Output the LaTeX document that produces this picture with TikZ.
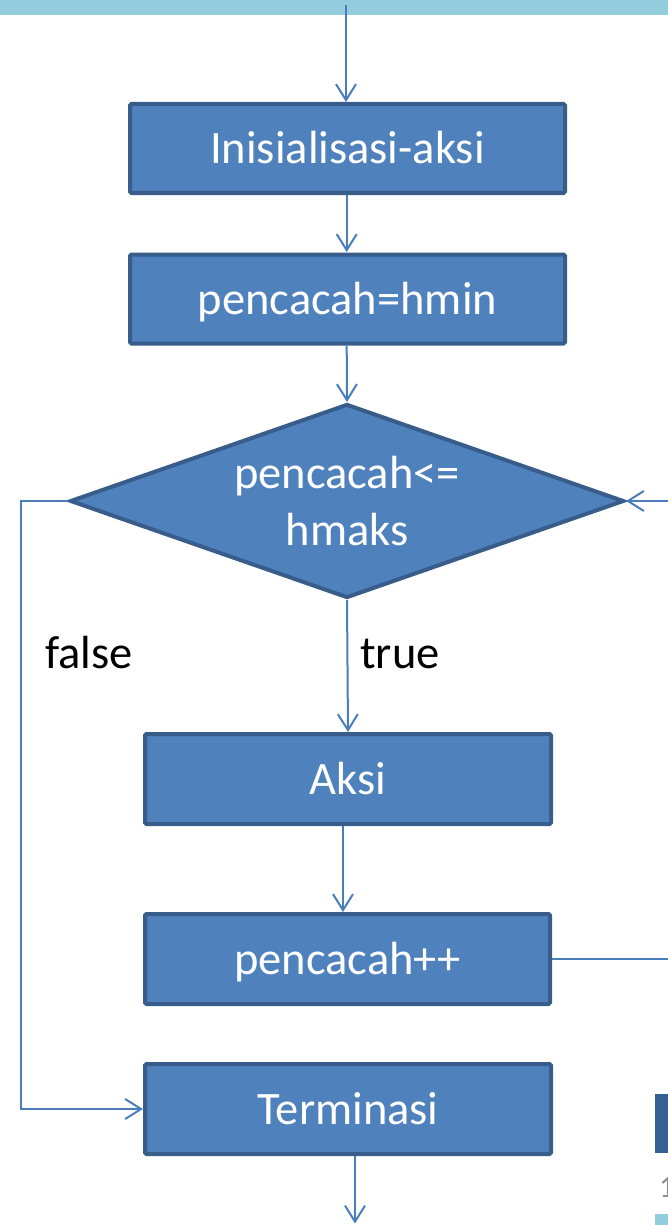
\documentclass[tikz,border=0pt]{standalone}
\usepackage{fontspec}
\setmainfont{Carlito}
\usetikzlibrary{shapes.geometric,arrows.meta}
\definecolor{boxfill}{HTML}{4F81BD}
\definecolor{boxline}{HTML}{385D8A}
\definecolor{conn}{HTML}{4A7EBB}
\definecolor{band}{HTML}{93CDDD}
\definecolor{darkrect}{HTML}{376092}
\definecolor{numgray}{HTML}{8C8C8C}
\tikzset{
  stepbox/.style={rectangle, draw=boxline, fill=boxfill, line width=4pt,
    rounded corners=1.5pt, text=white, inner sep=0pt,
    font=\fontsize{46.5}{57}\selectfont, text height=30pt, text depth=0pt},
  decision/.style={diamond, draw=boxline, fill=boxfill, line width=4pt,
    text=white, inner sep=0pt, align=center, aspect=2.85,
    font=\fontsize{46.5}{57}\selectfont,
    minimum width=554pt, minimum height=194pt},
  conn/.style={draw=conn, line width=2pt,
    -{Straight Barb[length=16pt,width=20pt,line width=2pt]}},
  lbl/.style={font=\fontsize{46.5}{57}\selectfont, text=black, inner sep=0pt, anchor=base west}
}
\begin{document}
\begin{tikzpicture}[x=1pt,y=-1pt]
\useasboundingbox (0,0) rectangle (668,1225);
\clip (0,0) rectangle (668,1225);
% top band
\fill[band] (0,0) rectangle (668,15);
% decorations bottom right
\fill[darkrect] (655,1094) rectangle (670,1153);
\fill[band] (655,1214) rectangle (670,1226);
\node[font=\fontsize{31}{36}\selectfont, text=numgray, inner sep=0pt, anchor=base west] (pnum) at (659,1197) {1};
% nodes
\node[stepbox, minimum width=435pt, minimum height=89pt] (b1) at (347.5,148.5) {Inisialisasi-aksi};
\node[stepbox, minimum width=435pt, minimum height=89pt] (b2) at (347.5,299) {pencacah=hmin};
\node[decision] (d) at (347,501) {pencacah<=\\hmaks};
\node[stepbox, minimum width=406pt, minimum height=90pt] (ak) at (348,779) {Aksi};
\node[stepbox, minimum width=405pt, minimum height=90pt] (pp) at (347.5,959) {pencacah++};
\node[stepbox, minimum width=406pt, minimum height=90pt] (tm) at (348,1109) {Terminasi};
\node[lbl] (lf) at (45,668) {false};
\node[lbl] (lt) at (360,668) {true};
% coordinates
\coordinate (top) at (346,5);
\coordinate (lft) at (21,501);
\coordinate (rgt) at (700,501);
\coordinate (rgtb) at (700,959);
\coordinate (bot) at (355,1223.5);
% connectors
\draw[conn] (top) -- (top |- b1.north);
\draw[conn] (346.7,195) -- (346.7,252);
\draw[conn] (346.7,346) -- (d.north);
\draw[conn] (d.south) -- (ak.north);
\draw[conn] (343,826) -- (343,912);
\draw[conn] (pp.east) -- (rgtb) -- (rgt) -- (d.east);
\draw[conn] (d.west) -- (lft) -- (lft |- tm.west) -- (tm.west);
\draw[conn] (bot |- tm.south) -- (bot);
\end{tikzpicture}
\end{document}
